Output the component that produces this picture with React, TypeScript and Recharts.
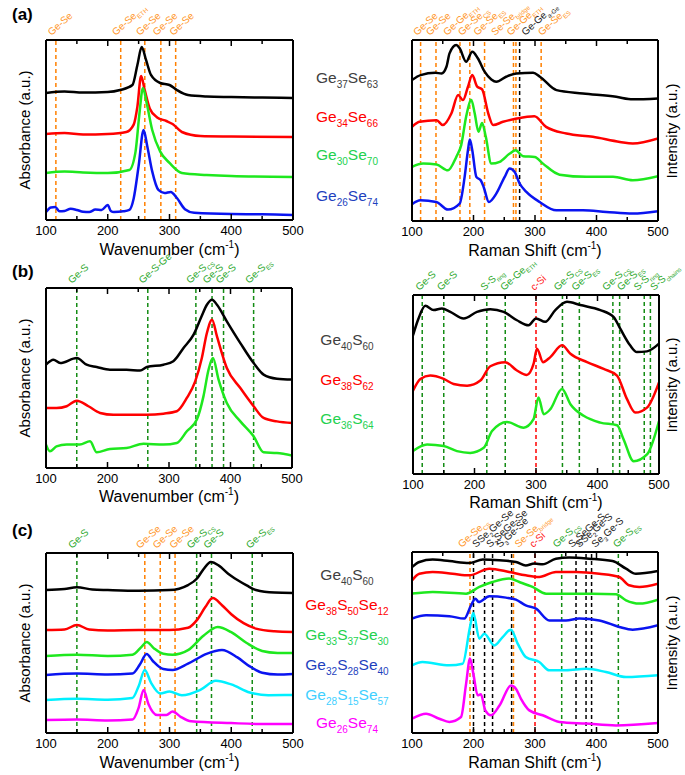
import React from 'react';
import { LineChart, Line, XAxis, YAxis, ReferenceLine } from 'recharts';

const FONT = '"Liberation Sans", Arial, Helvetica, sans-serif';
const X_TICKS = [100, 150, 200, 250, 300, 350, 400, 450, 500];

type Pt = [number, number];
type Mark = { x: number; lx: number; text: string; c: 'o' | 'g' | 'k' | 'r' };

// ---------- (a) absorbance ----------
const absA_Ge37Se63: Pt[] = [[100,70.6],[130,71.4],[160,70.8],[200,71.1],[220,72.2],[240,75],[248,86.1],[255,96.1],[262,88.9],[270,80.6],[285,76.1],[300,75],[312,72.2],[330,69.4],[360,68.6],[400,68.3],[450,68],[500,67.8]];
const absA_Ge34Se66: Pt[] = [[100,47.8],[130,48.3],[160,47.5],[200,47.8],[230,48.9],[242,53],[248,63],[254,80],[260,72],[268,62],[280,57],[295,55],[305,53.3],[320,48.9],[350,46.7],[400,46.4],[500,46.1]];
const absA_Ge30Se70: Pt[] = [[100,26.1],[130,26.9],[160,26.4],[200,26.1],[235,27.8],[245,38],[251,58],[257,73.3],[263,65],[272,50],[285,38],[300,31.7],[320,26.1],[360,25],[400,24.4],[500,23.9]];
const absA_Ge26Se74: Pt[] = [[100,4.4],[108,7],[115,7.2],[122,4.8],[130,5],[140,6.2],[150,5.6],[160,4.6],[170,4.4],[180,5.8],[190,5.6],[200,8.3],[205,5],[210,4.4],[225,4.8],[235,5.6],[242,12],[250,30],[258,50],[264,41],[272,27],[282,16.7],[292,15],[302,15.6],[312,12.2],[325,6],[340,4],[400,3.3],[450,3.2],[500,2.8]];

// ---------- (a) Raman ----------
const ramA_Ge37Se63: Pt[] = [[100,77.9],[114,80.6],[138,81.9],[148,81.5],[156,85.2],[161,92.6],[172,97.2],[177.5,95.4],[188,88],[198,93.5],[207,89.9],[218,82.5],[229,78.2],[237,76.9],[253,79.7],[270,81.5],[297,81.9],[308,79.7],[335,72.3],[378,70.5],[432,68.6],[459,67.2],[500,67.7]];
const ramA_Ge34Se66: Pt[] = [[100,52],[112,54.8],[140,55.7],[150,53],[164,59.4],[175,69.6],[183,66.8],[191,74.2],[198,80.6],[206,74.2],[214,72.7],[224,59.4],[232,53],[248,54.8],[270,56.6],[299,57.9],[318,52],[351,48.3],[394,46.5],[438,43.7],[459,42.8],[500,45.6]];
const ramA_Ge30Se70: Pt[] = [[100,29.9],[118,31.7],[140,31.2],[158.5,28],[172,35.4],[180,41.9],[188,57.6],[196.5,66.8],[202,59.4],[208,49.3],[214,54.2],[220,46.5],[229,31.7],[242.5,32.7],[259,37.3],[268.5,39.1],[280.5,35.8],[299.5,35.4],[313,31.7],[340,25.6],[383.5,24.4],[427,24.4],[459,22.5],[500,24.7]];
const ramA_Ge26Se74: Pt[] = [[100,9.2],[113.5,11.4],[139.5,10.5],[158.5,6.3],[177.5,9.6],[185.6,24.4],[191,39.1],[194,45],[198,39.1],[204.6,24.4],[211.7,22.5],[216.5,18.8],[225,10.5],[237,15.1],[250.7,24.4],[258.8,29],[267,27.1],[275,20.7],[286,16.1],[307.6,10.5],[334.7,5.9],[378,5.9],[416,5],[459,4.1],[500,5.4]];

// ---------- (b) absorbance ----------
const absB_Ge40S60: Pt[] = [[100,57.4],[112,60.2],[123,58.3],[150,61.1],[166,57.4],[182.5,56.1],[204,54.6],[231,54.6],[253,54.1],[264,56.1],[291,57.4],[307,59.3],[323.6,66.7],[340,74.1],[353,84.3],[361.6,90.7],[370,93.5],[378,90.7],[394,81.5],[416,69.4],[437.6,58.3],[453.8,51.9],[475.5,49.6],[500,49.1]];
const absB_Ge38S62: Pt[] = [[100,33.3],[117,33.3],[133.6,34.3],[150,37.4],[169,34.3],[188,30.6],[209.6,29.6],[231,29.6],[264,29.6],[291,30.2],[312.7,31.5],[329,38.9],[342.6,48.1],[353.4,61.1],[361.6,75],[370,82.4],[378,73.1],[394,55.6],[416,44.4],[437.6,34.3],[453.8,27.8],[475.5,25.9],[500,25]];
const absB_Ge36S64: Pt[] = [[100,13],[106.5,9.3],[117,12],[133.6,13],[155,13],[171.6,14.8],[182.5,8.7],[204,10.6],[231,11.1],[258.5,13.5],[291,13],[312.7,13.9],[329,20.4],[345.3,26.9],[356,39.8],[364.3,54.6],[371.4,61.1],[380.6,49.1],[394,36.1],[416,25.9],[437.6,17.6],[453.8,8.7],[475.5,8.3],[500,7]];

// ---------- (b) Raman ----------
const ramB_Ge40S60: Pt[] = [[100,77.5],[109,86.9],[120,94],[133.6,91.6],[147,92.5],[160.7,90.6],[182.4,86.9],[204,90.6],[225.7,92.1],[247.4,90.6],[269,85.9],[288,83.1],[300,86.9],[315,85],[331.4,91.6],[350.4,96.2],[372,94.4],[404.6,91.6],[426,87.8],[437,81.2],[453,71.9],[464,68.1],[480.5,68.5],[500,72.8]];
const ramB_Ge38S62: Pt[] = [[100,46.5],[112,53.1],[128,55],[150,53.1],[166,50.3],[188,49.3],[209.5,52.2],[225.7,60.2],[250,62.5],[269,57.8],[285,55.3],[296,61.5],[301.6,70],[311.4,62.5],[323.3,65.3],[342.3,71.9],[356,67.2],[383,62.5],[410,58.7],[431.7,55],[448,41.8],[461.5,34.3],[480.5,37.1],[500,51.2]];
const ramB_Ge36S64: Pt[] = [[100,12.8],[122.8,16.5],[150,15.6],[171.5,12.8],[193,11.8],[215,14.6],[228.5,24],[252.8,29.1],[280,25.9],[296,30.6],[304,42.8],[312.5,33.4],[323.3,36.2],[342.3,47.5],[356,39],[377.5,32.5],[404.6,28.7],[431.7,27.2],[442.5,19.3],[458.8,7.1],[480.5,10.9],[500,29.6]];

// ---------- (c) absorbance ----------
const absC_Ge40S60: Pt[] = [[100,79.4],[130,80],[150,81],[175,79.7],[200,79.4],[250,79],[300,79.4],[330,82.2],[345,86],[355,91],[367,95],[380,93],[395,88.5],[410,85],[425,82],[440,79.4],[470,78],[500,77.8]];
const absC_Ge38S50Se12: Pt[] = [[100,57.2],[130,57.5],[150,60],[170,57.5],[200,57],[250,57.2],[300,57.2],[330,58.5],[345,63],[358,70],[370,75],[385,71],[400,66],[420,61],[440,58],[470,56.5],[500,56.1]];
const absC_Ge33S37Se30: Pt[] = [[100,42.8],[150,43.5],[200,42.8],[240,43.5],[255,48],[263,50.6],[275,47],[290,44],[305,43.5],[330,46],[355,54],[378,58.9],[400,56],[425,50],[450,45.6],[475,44.5],[500,44.4]];
const absC_Ge32S28Se40: Pt[] = [[100,32.2],[150,33],[200,32.5],[240,33],[252,38],[263,43.9],[273,40],[290,35.5],[305,35],[330,38.5],[360,44],[385,46.1],[410,42],[430,37],[450,33.5],[475,32.5],[500,32.8]];
const absC_Ge28S15Se57: Pt[] = [[100,18.3],[150,19],[200,18.5],[240,19.5],[250,26],[260,35],[270,28],[285,22],[300,23],[320,21],[350,24],[375,29],[400,27],[430,22.5],[460,21],[500,21.1]];
const absC_Ge26Se74: Pt[] = [[100,7.2],[150,7.5],[200,7],[240,7.5],[250,14],[258,23.9],[266,16],[280,10],[295,10],[305,12],[318,9],[335,6.5],[400,5.5],[450,5],[500,5]];

// ---------- (c) Raman ----------
const ramC_Ge40S60: Pt[] = [[100,91.7],[112,94.5],[133.6,95.8],[160.7,95],[193,93.9],[215,95.8],[242,95.4],[269,94.5],[285,92.6],[299,93.6],[312.5,93.2],[334,96.3],[356,96.9],[388,96.3],[426,95],[448,90.8],[464,88],[500,89.5]];
const ramC_Ge38S50Se12: Pt[] = [[100,84.3],[112,88],[133.6,89],[166,88],[193,87.1],[225.7,90.8],[258,89],[285,87.1],[307,86.2],[334,89],[366.7,89],[404.6,88],[437,86.2],[453,81.6],[469.6,80.7],[500,82.5]];
const ramC_Ge33S37Se30: Pt[] = [[100,77],[133.6,77.9],[188,77],[209.5,80.7],[231,83.4],[258,85.3],[274.5,83.4],[296,80.7],[318,77],[350.4,77],[393.8,77],[431.7,76.6],[448,73.3],[469.6,71.5],[500,73.7]];
const ramC_Ge32S28Se40: Pt[] = [[100,63.2],[122.8,65],[160.7,64.5],[185,63.2],[196,70.5],[203,74.2],[208.4,72.4],[225.7,75.5],[252.8,74.8],[269,73.7],[285,70.5],[301.6,68.7],[323.3,62.2],[350.4,62.2],[372,63.2],[404.6,62.2],[437,58.6],[458.8,57.1],[500,59.5]];
const ramC_Ge28S15Se57: Pt[] = [[100,37.4],[117,39.2],[160.7,37.4],[182.4,38.3],[194.3,58.6],[199.7,66.3],[209.5,52.1],[217.6,54.9],[234,48.4],[247.4,53],[261,57.1],[271.8,49.4],[285,42],[307,39.2],[323.3,34.6],[350.4,34.6],[383,35.5],[415.4,33.7],[448,30.9],[500,31.9]];
const ramC_Ge26Se74: Pt[] = [[100,7.9],[122.8,10.7],[144.4,7.9],[160.7,6.1],[179.7,8.8],[188,27.3],[194.3,41.1],[199.7,32.8],[206.8,20.8],[212,21.4],[219.2,12.5],[228.5,9.8],[242.5,15.3],[261,26.3],[269,24.5],[277,19],[290.8,12.5],[312.5,9.8],[339.6,6.1],[383,5.2],[431.7,4.2],[500,5.5]];

// ---------- band assignments ----------
const marksAL: Mark[] = [
  { x: 116, lx: 109, text: 'Ge-Se', c: 'o' },
  { x: 221, lx: 213, text: 'Ge-Se_{ETH}', c: 'o' },
  { x: 260, lx: 252, text: 'Ge-Se', c: 'o' },
  { x: 286, lx: 279, text: 'Ge-Se', c: 'o' },
  { x: 310, lx: 306, text: 'Ge-Se', c: 'o' },
];
const marksAR: Mark[] = [
  { x: 114, lx: 108, text: 'Ge-Se', c: 'o' },
  { x: 139, lx: 129, text: 'Ge-Se', c: 'o' },
  { x: 178, lx: 157, text: 'Ge-Ge_{ETH}', c: 'o' },
  { x: 194, lx: 181, text: 'Ge-Se_{CS}', c: 'o' },
  { x: 218, lx: 206, text: 'Ge-Se_{ES}', c: 'o' },
  { x: 265, lx: 235, text: 'Se-Se_{bridge}', c: 'o' },
  { x: 269, lx: 260, text: 'Ge-Ge_{ETH}', c: 'o' },
  { x: 275, lx: 284, text: 'Ge-Ge_{a-Ge}', c: 'k' },
  { x: 310, lx: 311, text: 'Ge-Se_{ES}', c: 'o' },
];
const marksBL: Mark[] = [
  { x: 150, lx: 142, text: 'Ge-S', c: 'g' },
  { x: 265.5, lx: 257, text: 'Ge-S-Ge', c: 'g' },
  { x: 343.7, lx: 334, text: 'Ge-S_{CS}', c: 'g' },
  { x: 370, lx: 361, text: 'Ge-S', c: 'g' },
  { x: 388.7, lx: 382, text: 'Ge-S', c: 'g' },
  { x: 437.6, lx: 430, text: 'Ge-S_{ES}', c: 'g' },
];
const marksBR: Mark[] = [
  { x: 115, lx: 110, text: 'Ge-S', c: 'g' },
  { x: 150, lx: 145, text: 'Ge-S', c: 'g' },
  { x: 220, lx: 216, text: 'S-S_{ring}', c: 'g' },
  { x: 250, lx: 248, text: 'Ge-Ge_{ETH}', c: 'g' },
  { x: 300, lx: 297, text: 'c-Si', c: 'r' },
  { x: 343, lx: 335, text: 'Ge-S_{CS}', c: 'g' },
  { x: 370.5, lx: 364, text: 'Ge-S_{ES}', c: 'g' },
  { x: 425, lx: 414, text: 'Ge-S_{CS}', c: 'g' },
  { x: 436, lx: 438, text: 'Ge-S_{ES}', c: 'g' },
  { x: 476, lx: 465, text: 'S-S_{ring}', c: 'g' },
  { x: 486, lx: 492, text: 'S-S_{chains}', c: 'g' },
];
const marksCL: Mark[] = [
  { x: 150, lx: 142, text: 'Ge-S', c: 'g' },
  { x: 260, lx: 252, text: 'Ge-Se', c: 'o' },
  { x: 285, lx: 279, text: 'Ge-Se', c: 'o' },
  { x: 309, lx: 306, text: 'Ge-Se', c: 'o' },
  { x: 344, lx: 334, text: 'Ge-S_{CS}', c: 'g' },
  { x: 368, lx: 361, text: 'Ge-S', c: 'g' },
  { x: 434, lx: 430, text: 'Ge-S_{ES}', c: 'g' },
];
const marksCR: Mark[] = [
  { x: 194.3, lx: 181, text: 'Ge-Se_{CS}', c: 'o' },
  { x: 200, lx: 204, text: 'SSe_{2}Ge-Se', c: 'k' },
  { x: 218, lx: 227, text: 'S_{2}SeGe-Se', c: 'k' },
  { x: 231, lx: 243, text: 'S_{3}Ge-Se', c: 'k' },
  { x: 262, lx: 262, text: '', c: 'k' },
  { x: 265, lx: 273, text: 'Se-Se_{bridge}', c: 'o' },
  { x: 300, lx: 297, text: 'c-Si', c: 'r' },
  { x: 343.4, lx: 335, text: 'Ge-S_{CS}', c: 'g' },
  { x: 366.7, lx: 360, text: 'S_{2}SeGe-S', c: 'k' },
  { x: 383, lx: 372, text: 'SSe_{2}Ge-S', c: 'k' },
  { x: 392, lx: 398, text: 'Se_{3}Ge-S', c: 'k' },
  { x: 435.5, lx: 433, text: 'Ge-S_{ES}', c: 'g' },
];

const legendA = ['Ge_{37}Se_{63}', 'Ge_{34}Se_{66}', 'Ge_{30}Se_{70}', 'Ge_{26}Se_{74}'];
const legendB = ['Ge_{40}S_{60}', 'Ge_{38}S_{62}', 'Ge_{36}S_{64}'];
const legendC = ['Ge_{40}S_{60}', 'Ge_{38}S_{50}Se_{12}', 'Ge_{33}S_{37}Se_{30}', 'Ge_{32}S_{28}Se_{40}', 'Ge_{28}S_{15}Se_{57}', 'Ge_{26}Se_{74}'];

// ---------- styling ----------
const LINE_COL = { black: '#000000', red: '#FF0000', green: '#1EE81E', blue: '#0A14F0', cyan: '#00F0FF', magenta: '#FF00FF' };
const TEXT_COL = { black: '#404040', red: '#FF0000', green: '#22D150', blue: '#1E3FBE', cyan: '#3FD0FF', magenta: '#FF00FF' };
const MARK_COL: Record<string, { line: string; text: string }> = {
  o: { line: '#FF8000', text: '#FF9628' },
  g: { line: '#148C14', text: '#2CA82C' },
  k: { line: '#000000', text: '#1A1A1A' },
  r: { line: '#FF0000', text: '#FF2020' },
};

function parseRich(s: string) {
  const parts: { t: string; sub: boolean }[] = [];
  const re = /_\{([^}]*)\}/g;
  let last = 0;
  let m: RegExpExecArray | null;
  while ((m = re.exec(s))) {
    if (m.index > last) parts.push({ t: s.slice(last, m.index), sub: false });
    parts.push({ t: m[1], sub: true });
    last = re.lastIndex;
  }
  if (last < s.length) parts.push({ t: s.slice(last), sub: false });
  return parts;
}

function richSvg(s: string, size: number) {
  let off = 0;
  return parseRich(s).map((p, i) => {
    const target = p.sub ? size * 0.3 : 0;
    const dy = target - off;
    off = target;
    return (
      <tspan key={i} dy={dy} fontSize={p.sub ? size * 0.62 : size}>
        {p.t}
      </tspan>
    );
  });
}

function RichHtml({ s, size, subSize }: { s: string; size: number; subSize: number }) {
  return (
    <>
      {parseRich(s).map((p, i) =>
        p.sub ? (
          <span key={i} style={{ fontSize: subSize, position: 'relative', top: size * 0.32 }}>{p.t}</span>
        ) : (
          <span key={i}>{p.t}</span>
        )
      )}
    </>
  );
}

type Series = { pts: Pt[]; color: string };

function Panel({ box, series, marks }: { box: [number, number, number, number]; series: Series[]; marks: Mark[] }) {
  const [x0, y0, x1, y1] = box;
  const padL = 40, padR = 40, padT = 60, padB = 40;
  const W = x1 - x0 + padL + padR;
  const H = y1 - y0 + padT + padB;
  const yb = H - padB;
  const yt = padT;
  const pxPer = (x1 - x0) / 400;

  const bottomTick = (p: any) => {
    const v = p.payload.value;
    const major = v % 100 === 0;
    return (
      <g>
        <line x1={p.x} x2={p.x} y1={yb} y2={yb - (major ? 6 : 4)} stroke="#000" strokeWidth={1.5} />
        {major && (
          <text x={p.x} y={yb + 15} textAnchor="middle" fontSize={13} fontFamily={FONT} fill="#000">
            {v}
          </text>
        )}
      </g>
    );
  };
  const topTick = (p: any) => {
    const v = p.payload.value;
    const major = v % 100 === 0;
    return <line x1={p.x} x2={p.x} y1={yt} y2={yt + (major ? 6 : 4)} stroke="#000" strokeWidth={1.5} />;
  };

  return (
    <div style={{ position: 'absolute', left: x0 - padL, top: y0 - padT }}>
      <LineChart width={W} height={H} margin={{ top: padT - 10, left: padL - 10, right: padR - 10, bottom: 0 }}>
        <XAxis xAxisId="b" dataKey="x" type="number" domain={[100, 500]} allowDataOverflow ticks={X_TICKS} interval={0}
          height={padB} tickSize={0} tickMargin={0} tickLine={false} axisLine={{ stroke: '#000', strokeWidth: 2 }} tick={bottomTick} />
        <XAxis xAxisId="t" orientation="top" dataKey="x" type="number" domain={[100, 500]} allowDataOverflow ticks={X_TICKS} interval={0}
          height={10} tickSize={0} tickMargin={0} tickLine={false} axisLine={{ stroke: '#000', strokeWidth: 2 }} tick={topTick} />
        <YAxis yAxisId="l" type="number" domain={[0, 100]} allowDataOverflow width={10} tick={false} tickLine={false}
          axisLine={{ stroke: '#000', strokeWidth: 2 }} />
        <YAxis yAxisId="r" orientation="right" type="number" domain={[0, 100]} allowDataOverflow width={10} tick={false} tickLine={false}
          axisLine={{ stroke: '#000', strokeWidth: 2 }} />
        {marks.map((m, i) => (
          <ReferenceLine key={'m' + i} xAxisId="b" yAxisId="l" x={m.x} stroke={MARK_COL[m.c].line} strokeWidth={1.5}
            strokeDasharray="4 3"
            label={(p: any) => {
              const vb = p && p.viewBox;
              if (!vb || !m.text) return null;
              const lx = vb.x + (m.lx - m.x) * pxPer;
              const ly = vb.y - 4;
              return (
                <text transform={`translate(${lx},${ly}) rotate(-42)`} fill={MARK_COL[m.c].text} fontSize={10} fontFamily={FONT}>
                  {richSvg(m.text, 10)}
                </text>
              );
            }}
          />
        ))}
        {series.map((s, i) => (
          <Line key={'s' + i} xAxisId="b" yAxisId="l" data={s.pts.map(([x, y]) => ({ x, y }))} dataKey="y" type="monotone"
            stroke={s.color} strokeWidth={2.5} dot={false} isAnimationActive={false} />
        ))}
      </LineChart>
    </div>
  );
}

function AxisTitle({ cx, cy, text }: { cx: number; cy: number; text: string }) {
  return (
    <div style={{ position: 'absolute', left: cx, top: cy, transform: 'translate(-50%,-50%)', whiteSpace: 'nowrap', fontSize: 16, lineHeight: 1, color: '#000' }}>
      {text} (cm<span style={{ fontSize: 10, position: 'relative', top: -7 }}>-1</span>)
    </div>
  );
}

function YTitle({ cx, cy, text }: { cx: number; cy: number; text: string }) {
  return (
    <div style={{ position: 'absolute', left: cx, top: cy, transform: 'translate(-50%,-50%) rotate(-90deg)', whiteSpace: 'nowrap', fontSize: 15, lineHeight: 1, color: '#000' }}>
      {text}
    </div>
  );
}

function Legend({ cx, ys, items, colors }: { cx: number; ys: number[]; items: string[]; colors: string[] }) {
  return (
    <>
      {items.map((s, i) => (
        <div key={i} style={{ position: 'absolute', left: cx, top: ys[i], transform: 'translate(-50%,-50%)', whiteSpace: 'nowrap', fontSize: 15.5, lineHeight: 1, color: colors[i] }}>
          <RichHtml s={s} size={15.5} subSize={10} />
        </div>
      ))}
    </>
  );
}

function Letter({ x, y, t }: { x: number; y: number; t: string }) {
  return (
    <div style={{ position: 'absolute', left: x, top: y, transform: 'translateY(-50%)', fontSize: 17, fontWeight: 'bold', lineHeight: 1 }}>{t}</div>
  );
}

export default function App() {
  const boxAL: [number, number, number, number] = [46, 40, 293, 220];
  const boxAR: [number, number, number, number] = [412, 40, 658, 221];
  const boxBL: [number, number, number, number] = [46, 288, 292, 468];
  const boxBR: [number, number, number, number] = [413, 295, 659, 474];
  const boxCL: [number, number, number, number] = [46, 553, 293, 733];
  const boxCR: [number, number, number, number] = [412, 552, 658, 733];

  const cx = (b: number[]) => (b[0] + b[2]) / 2;
  const cy = (b: number[]) => (b[1] + b[3]) / 2;

  return (
    <div style={{ position: 'absolute', left: 0, top: 0, width: 685, height: 775, overflow: 'hidden', background: '#fff', fontFamily: FONT }}>
      <Panel box={boxAL} marks={marksAL} series={[
        { pts: absA_Ge37Se63, color: LINE_COL.black },
        { pts: absA_Ge34Se66, color: LINE_COL.red },
        { pts: absA_Ge30Se70, color: LINE_COL.green },
        { pts: absA_Ge26Se74, color: LINE_COL.blue },
      ]} />
      <Panel box={boxAR} marks={marksAR} series={[
        { pts: ramA_Ge37Se63, color: LINE_COL.black },
        { pts: ramA_Ge34Se66, color: LINE_COL.red },
        { pts: ramA_Ge30Se70, color: LINE_COL.green },
        { pts: ramA_Ge26Se74, color: LINE_COL.blue },
      ]} />
      <Panel box={boxBL} marks={marksBL} series={[
        { pts: absB_Ge40S60, color: LINE_COL.black },
        { pts: absB_Ge38S62, color: LINE_COL.red },
        { pts: absB_Ge36S64, color: LINE_COL.green },
      ]} />
      <Panel box={boxBR} marks={marksBR} series={[
        { pts: ramB_Ge40S60, color: LINE_COL.black },
        { pts: ramB_Ge38S62, color: LINE_COL.red },
        { pts: ramB_Ge36S64, color: LINE_COL.green },
      ]} />
      <Panel box={boxCL} marks={marksCL} series={[
        { pts: absC_Ge40S60, color: LINE_COL.black },
        { pts: absC_Ge38S50Se12, color: LINE_COL.red },
        { pts: absC_Ge33S37Se30, color: LINE_COL.green },
        { pts: absC_Ge32S28Se40, color: LINE_COL.blue },
        { pts: absC_Ge28S15Se57, color: LINE_COL.cyan },
        { pts: absC_Ge26Se74, color: LINE_COL.magenta },
      ]} />
      <Panel box={boxCR} marks={marksCR} series={[
        { pts: ramC_Ge40S60, color: LINE_COL.black },
        { pts: ramC_Ge38S50Se12, color: LINE_COL.red },
        { pts: ramC_Ge33S37Se30, color: LINE_COL.green },
        { pts: ramC_Ge32S28Se40, color: LINE_COL.blue },
        { pts: ramC_Ge28S15Se57, color: LINE_COL.cyan },
        { pts: ramC_Ge26Se74, color: LINE_COL.magenta },
      ]} />

      <AxisTitle cx={cx(boxAL)} cy={boxAL[3] + 30} text="Wavenumber" />
      <AxisTitle cx={cx(boxAR)} cy={boxAR[3] + 30} text="Raman Shift" />
      <AxisTitle cx={cx(boxBL)} cy={boxBL[3] + 29} text="Wavenumber" />
      <AxisTitle cx={cx(boxBR)} cy={boxBR[3] + 29} text="Raman Shift" />
      <AxisTitle cx={cx(boxCL)} cy={boxCL[3] + 30} text="Wavenumber" />
      <AxisTitle cx={cx(boxCR)} cy={boxCR[3] + 30} text="Raman Shift" />

      <YTitle cx={24} cy={cy(boxAL)} text="Absorbance (a.u.)" />
      <YTitle cx={24} cy={cy(boxBL)} text="Absorbance (a.u.)" />
      <YTitle cx={24} cy={cy(boxCL)} text="Absorbance (a.u.)" />
      <YTitle cx={671} cy={cy(boxAR)} text="Intensity (a.u.)" />
      <YTitle cx={671} cy={cy(boxBR)} text="Intensity (a.u.)" />
      <YTitle cx={671} cy={cy(boxCR)} text="Intensity (a.u.)" />

      <Legend cx={347} ys={[78, 117, 155, 196]} items={legendA}
        colors={[TEXT_COL.black, TEXT_COL.red, TEXT_COL.green, TEXT_COL.blue]} />
      <Legend cx={347} ys={[340, 380, 419]} items={legendB}
        colors={[TEXT_COL.black, TEXT_COL.red, TEXT_COL.green]} />
      <Legend cx={347} ys={[575, 605, 635, 665, 695, 723]} items={legendC}
        colors={[TEXT_COL.black, TEXT_COL.red, TEXT_COL.green, TEXT_COL.blue, TEXT_COL.cyan, TEXT_COL.magenta]} />

      <Letter x={12} y={14} t="(a)" />
      <Letter x={12} y={271} t="(b)" />
      <Letter x={12} y={530} t="(c)" />
    </div>
  );
}
